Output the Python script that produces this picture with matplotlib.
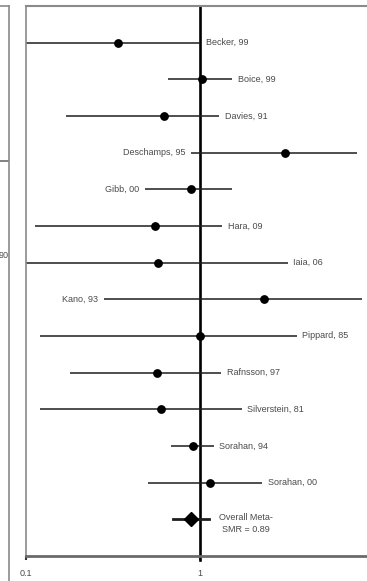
import matplotlib.pyplot as plt
import numpy as np

# study labels, top to bottom
studies = ['Becker, 99', 'Boice, 99', 'Davies, 91', 'Deschamps, 95', 'Gibb, 00',
           'Hara, 09', 'Iaia, 06', 'Kano, 93', 'Pippard, 85', 'Rafnsson, 97',
           'Silverstein, 81', 'Sorahan, 94', 'Sorahan, 00']
smr     = [0.34, 1.03, 0.62, 3.10, 0.89, 0.55, 0.57, 2.33, 1.00, 0.565, 0.60, 0.91, 1.14]
ci_low  = [0.08, 0.655, 0.17, 0.89, 0.48, 0.113, 0.09, 0.28, 0.12, 0.18, 0.12, 0.68, 0.50]
ci_high = [1.00, 1.53, 1.29, 7.98, 1.53, 1.34, 3.20, 8.50, 3.60, 1.32, 1.74, 1.20, 2.27]
label_left = ['Deschamps, 95', 'Gibb, 00', 'Kano, 93']

overall_label = 'Overall Meta-\nSMR = 0.89'
overall = 0.89
overall_low = 0.70
overall_high = 1.13

xticks = [0.1, 1]
xticklabels = ['0.1', '1']

plt.rcParams['font.family'] = ['Liberation Sans', 'DejaVu Sans']

W, H = 367, 581
fig = plt.figure(figsize=(W / 100, H / 100), dpi=100)

spine_col = '#8a8a8a'
txt_col = '#4a4a4a'
bar_col = '#1e1e1e'
fs = 6.5

# main forest plot panel
ax = fig.add_axes([26 / W, 25 / H, 348 / W, 550 / H])
ax.set_xscale('log')
ax.set_xlim(0.1, 10)
ax.set_ylim(len(studies) + 2, 0)

ypos = np.arange(1, len(studies) + 1)
for y, name, m, lo, hi in zip(ypos, studies, smr, ci_low, ci_high):
    ax.plot([lo, hi], [y, y], color=bar_col, lw=1.1, solid_capstyle='butt')
    ax.plot(m, y, 'o', color='black', ms=5.3)
    if name in label_left:
        ax.annotate(name, (lo, y), xytext=(-4, 0), textcoords='offset points',
                    ha='right', va='center', fontsize=fs, color=txt_col)
    else:
        ax.annotate(name, (hi, y), xytext=(4, 0), textcoords='offset points',
                    ha='left', va='center', fontsize=fs, color=txt_col)

y_ov = len(studies) + 1
ax.plot([overall_low, overall_high], [y_ov, y_ov], color=bar_col, lw=2)
ax.plot(overall, y_ov, 'D', color='black', ms=7)
ax.annotate(overall_label, (overall_high, y_ov), xytext=(7, -3), textcoords='offset points',
            ha='left', va='center', fontsize=fs, color=txt_col, multialignment='center',
            linespacing=1.4)

# line of no effect
ax.axvline(1, color='black', lw=1.9, zorder=1)
ax.plot([1, 1], [ax.get_ylim()[0], ax.get_ylim()[0] + 0.12], color='black', lw=1.9,
        clip_on=False)

ax.set_xticks(xticks)
ax.set_xticklabels(xticklabels)
ax.xaxis.set_minor_locator(plt.NullLocator())
ax.tick_params(axis='x', length=3, width=1.5, pad=6, labelsize=fs, labelcolor=txt_col,
               color='#333333')
ax.set_yticks([])
ax.spines['left'].set_color(spine_col)
ax.spines['left'].set_linewidth(1.2)
ax.spines['top'].set_color(spine_col)
ax.spines['top'].set_linewidth(1.5)
ax.spines['bottom'].set_color('#6a6a6a')
ax.spines['bottom'].set_linewidth(2)
ax.spines['right'].set_visible(False)

# cropped edge of the neighbouring panel
ax0 = fig.add_axes([-0.2, 0, 0.2 + 9 / W, 575 / H])
ax0.set_xlim(0, 1)
ax0.set_ylim(575, 0)
ax0.set_xticks([])
ax0.yaxis.tick_right()
ax0.set_yticks([155])
ax0.set_yticklabels([''])
ax0.tick_params(axis='y', direction='in', length=7, width=1.3, color='#777777')
for s in ['left', 'bottom']:
    ax0.spines[s].set_visible(False)
for s in ['right', 'top']:
    ax0.spines[s].set_color(spine_col)
    ax0.spines[s].set_linewidth(1.2)
ax0.text(0.998, 249, '90', ha='right', va='center', fontsize=fs, color=txt_col,
         transform=ax0.get_yaxis_transform())

fig.savefig('out.png', dpi=100, facecolor='white')
